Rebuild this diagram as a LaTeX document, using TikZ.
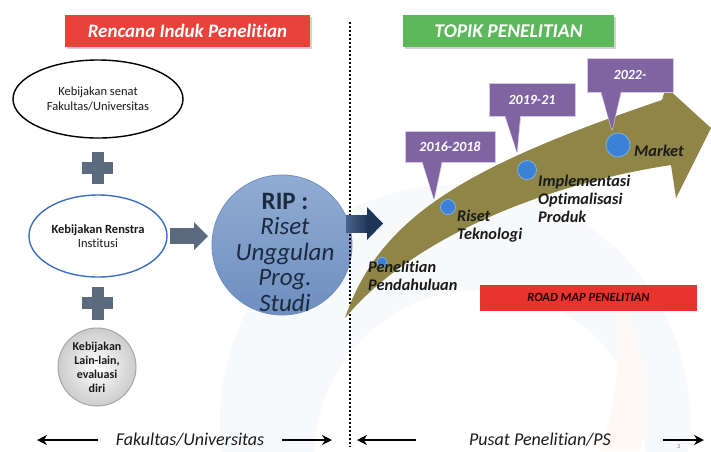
\documentclass[tikz,border=0pt]{standalone}
\usepackage{fontspec}
\setmainfont{Carlito}[Ligatures={TeX,NoCommon}]
\usetikzlibrary{arrows.meta,shapes.geometric,calc,shadows}
\definecolor{bannerred}{HTML}{E8423B}
\definecolor{bannergreen}{HTML}{5DB85C}
\definecolor{plusgrey}{HTML}{5B6A7E}
\definecolor{ripblue}{HTML}{7E9ECB}
\definecolor{ripblueD}{HTML}{6D8EBF}
\definecolor{navy}{HTML}{1E3557}
\definecolor{olive}{HTML}{8E8547}
\definecolor{callpurple}{HTML}{8064A2}
\definecolor{callborder}{HTML}{D5C8E6}
\definecolor{dotblue}{HTML}{3B82D6}
\definecolor{dotblueL}{HTML}{7FB0EA}
\definecolor{labeltext}{HTML}{1A1A1A}
\definecolor{circtext}{HTML}{1C2A40}
\definecolor{roadred}{HTML}{E8332F}
\definecolor{wmblue}{HTML}{F7F9FB}
\definecolor{wmorange}{HTML}{FEF9F4}
\definecolor{e2blue}{HTML}{3A6FC4}
\begin{document}
\begin{tikzpicture}[x=1pt,y=-1pt,
  banner/.style={rectangle, inner sep=0pt, text=white, drop shadow={shadow xshift=2pt, shadow yshift=-2pt, opacity=0.35}},
  pol/.style={ellipse, fill=white, inner sep=0pt, align=center, text=labeltext, line width=1.4pt},
  plusbar/.style={fill=plusgrey},
  callout/.style={rectangle, fill=callpurple, draw=callborder, line width=1pt, inner sep=0pt, text=white, font=\fontsize{14}{16}\selectfont\bfseries\itshape},
  pointer/.style={fill=callpurple, draw=callborder, line width=1pt, line join=round},
  stage/.style={circle, fill=dotblue, draw=dotblueL, line width=0.8pt, inner sep=0pt},
  stagelabel/.style={anchor=north west, align=left, inner sep=0pt, text=labeltext, font=\fontsize{16.3}{18}\selectfont\bfseries\itshape},
  bottomtext/.style={inner sep=0pt, text=labeltext, font=\fontsize{18}{20}\selectfont\itshape},
  bottomarrow/.style={-{Stealth[length=10pt,width=10pt]}, line width=1.8pt, black},
  dotline/.style={line width=2pt, dash pattern=on 1.8pt off 2.2pt, black}
]
\useasboundingbox (0,0) rectangle (711,451);
\fill[white] (0,0) rectangle (711,451);

% faint watermark
\begin{scope}
  \clip (0,0) rectangle (711,451);
  \fill[wmblue] (455,420) circle (235);
  \fill[white] (480,455) circle (165);
  \fill[wmorange] (620,300) .. controls (650,360) and (650,420) .. (640,451) -- (600,451) .. controls (615,410) and (620,360) .. cycle;
\end{scope}

% banners
\node[banner, fill=bannerred, minimum width=245, minimum height=32,
  font=\fontsize{19}{22}\selectfont\bfseries\itshape] (ttl1) at (187.5,31) {Rencana Induk Penelitian};
\node[banner, fill=bannergreen, minimum width=211, minimum height=32,
  font=\fontsize{19.5}{22}\selectfont\bfseries\itshape] (ttl2) at (508.5,31) {TOPIK PENELITIAN};

% dotted divider
\coordinate (dtop) at (350,22);
\coordinate (dbot) at (350,447);

% left column
\node[pol, draw=black, minimum width=170, minimum height=78, font=\fontsize{12.5}{14.5}\selectfont] (e1) at (98,99)
  {Kebijakan senat\\Fakultas/Universitas};
\fill[plusbar] (82,162) rectangle (113,174);
\fill[plusbar] (91.5,152) rectangle (103.5,184);
\node[pol, draw=e2blue, minimum width=138, minimum height=82, font=\fontsize{12.5}{14}\selectfont] (e2) at (98,236)
  {\textbf{Kebijakan Renstra}\\Institusi};
\fill[plusbar] (82,297) rectangle (113,309);
\fill[plusbar] (91.5,287) rectangle (103.5,320);
\node[circle, draw=gray!70, line width=1pt, inner color=white, outer color=gray!40, minimum size=78, inner sep=0pt, align=center, text=labeltext,
  font=\fontsize{12}{14}\selectfont\bfseries] (e3) at (97,367) {Kebijakan\\Lain-lain,\\evaluasi\\diri};

% big circle
\node[circle, minimum size=140, inner sep=0pt, draw=ripblueD, line width=0.8pt, top color=ripblue!85!white, bottom color=ripblueD] (rip) at (282,245) {};
\node[align=center, inner sep=0pt, text=circtext, font=\fontsize{25}{25.5}\selectfont\itshape] (riptext) at (285,252)
  {\textbf{\upshape RIP :}\\Riset\\Unggulan\\Prog.\\Studi};

% grey block arrow e2 -> rip
\fill[plusgrey] (170,228) rectangle (195,244);
\fill[plusgrey] (194,222) -- (208,236) -- (194,250) -- cycle;

\draw[dotline] (dtop) -- (dbot);

% navy arrow
\fill[left color=navy!55!ripblue, right color=navy] (346,215) rectangle (368,232);
\fill[navy] (367,207) -- (383,223.5) -- (367,240) -- cycle;

% olive road arrow
\fill[olive] (345,318) .. controls (380,215) and (470,165) .. (662,100)
  -- (666,87) -- (711,128) -- (676,198) -- (671,165)
  .. controls (540,185) and (410,240) .. (345,318) -- cycle;

% stages
\node[stage, minimum size=10] (s1) at (382,262) {};
\node[stage, minimum size=15] (s2) at (448,207) {};
\node[stage, minimum size=19] (s3) at (527,170) {};
\node[stage, minimum size=24] (s4) at (618,145) {};

\node[stagelabel] (l1) at (368,261) {Penelitian\\Pendahuluan};
\node[stagelabel] (l2) at (457,210) {Riset\\Teknologi};
\node[stagelabel] (l3) at (538,175) {Implementasi\\Optimalisasi\\Produk};
\node[stagelabel] (l4) at (634,145) {Market};

% callouts
\coordinate (p1) at (434,199);
\coordinate (p2) at (517,152);
\coordinate (p3) at (612,130);
\draw[pointer] (421,158) -- (p1) -- (443,158) -- cycle;
\draw[pointer] (504,112) -- (p2) -- (521,112) -- cycle;
\draw[pointer] (600,88) -- (p3) -- (622,88) -- cycle;
\node[callout, minimum width=90, minimum height=31] (c1) at (450,146.5) {2016-2018};
\node[callout, minimum width=86, minimum height=33] (c2) at (532,100) {2019-21};
\node[callout, minimum width=86, minimum height=34] (c3) at (630,75) {2022-};
\fill[callpurple] (422,160) -- (p1) -- (442,160) -- cycle;
\fill[callpurple] (505,115) -- (p2) -- (520,115) -- cycle;
\fill[callpurple] (601,91) -- (p3) -- (621,91) -- cycle;

% road map box
\node[rectangle, fill=roadred, minimum width=217, minimum height=26, inner sep=0pt, text=black!85!red,
  font=\fontsize{12.5}{14}\selectfont\bfseries\itshape] (road) at (588.5,297.5) {ROAD MAP PENELITIAN};

% bottom axis
\node[bottomtext] (fak) at (190,440) {Fakultas/Universitas};
\node[bottomtext] (pus) at (540,440) {Pusat Penelitian/PS};
\coordinate (a1) at (37,440);
\coordinate (a2) at (98,440);
\coordinate (a3) at (282,440);
\coordinate (a4) at (332,440);
\coordinate (a5) at (357,440);
\coordinate (a6) at (416,440);
\coordinate (a7) at (663,440);
\coordinate (a8) at (704,440);
\draw[bottomarrow] (a2) -- (a1);
\draw[bottomarrow] (a3) -- (a4);
\draw[bottomarrow] (a6) -- (a5);
\draw[bottomarrow] (a7) -- (a8);
\node[inner sep=0pt, text=gray, font=\fontsize{6}{7}\selectfont] (pg) at (679,447) {2};
\end{tikzpicture}
\end{document}
